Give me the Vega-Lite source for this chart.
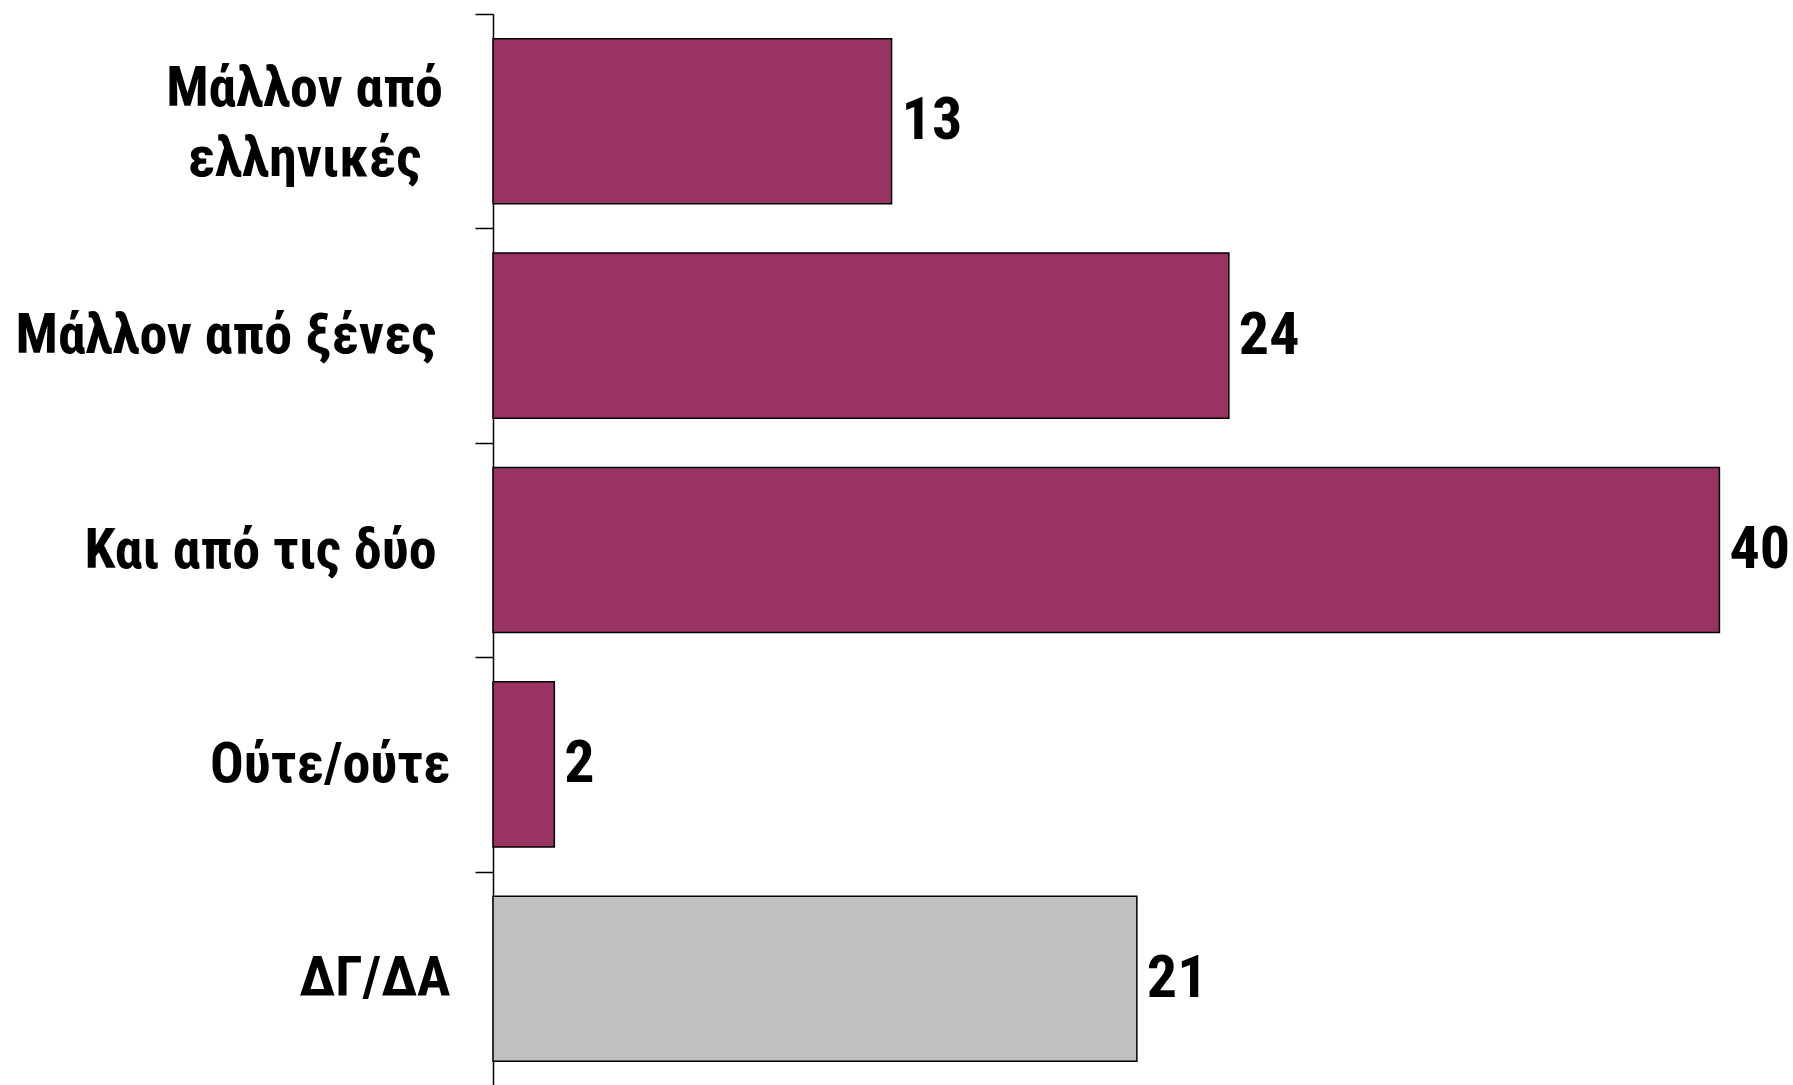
{
  "$schema": "https://vega.github.io/schema/vega-lite/v6.json",
  "autosize": "none",
  "width": 1300,
  "height": 1072,
  "padding": {"left": 493, "top": 14, "right": 0, "bottom": 0},
  "background": "white",
  "config": {"view": {"stroke": null}},
  "data": {
    "values": [
      {"cat": "Μάλλον από ελληνικές", "value": 13, "group": "a"},
      {"cat": "Μάλλον από ξένες", "value": 24, "group": "a"},
      {"cat": "Και από τις δύο", "value": 40, "group": "a"},
      {"cat": "Ούτε/ούτε", "value": 2, "group": "a"},
      {"cat": "ΔΓ/ΔΑ", "value": 21, "group": "b"}
    ]
  },
  "encoding": {
    "y": {
      "field": "cat",
      "type": "nominal",
      "sort": null,
      "scale": {"paddingInner": 0.23, "paddingOuter": 0.115},
      "axis": {
        "title": null,
        "domain": true,
        "domainColor": "black",
        "domainWidth": 1.5,
        "ticks": true,
        "tickSize": 18,
        "tickOffset": -107.2,
        "labelOffset": {
          "condition": {"test": "datum.value == 'Μάλλον από ελληνικές'", "value": 74},
          "value": 107.2
        },
        "tickColor": "black",
        "tickWidth": 1.5,
        "labelPadding": {
          "condition": [
            {"test": "datum.value == 'Μάλλον από ελληνικές'", "value": 171},
            {"test": "datum.value == 'Μάλλον από ξένες' || datum.value == 'Και από τις δύο'", "value": 39}
          ],
          "value": 25
        },
        "labelAlign": {
          "condition": {"test": "datum.value == 'Μάλλον από ελληνικές'", "value": "center"},
          "value": "right"
        },
        "labelFont": "Liberation Sans Narrow, Noto Sans Condensed, Roboto Condensed, Open Sans Condensed, Roboto",
        "labelFontSize": 56,
        "labelFontWeight": "bold",
        "labelColor": "black",
        "labelLimit": 0,
        "labelLineHeight": 70,
        "labelExpr": "datum.value == 'Μάλλον από ελληνικές' ? ['Μάλλον από', 'ελληνικές'] : datum.value"
      }
    },
    "x": {
      "field": "value",
      "type": "quantitative",
      "scale": {"domain": [0, 42.4]},
      "axis": null
    }
  },
  "layer": [
    {
      "mark": {"type": "bar", "stroke": "black", "strokeWidth": 1.5},
      "encoding": {
        "color": {
          "field": "group",
          "type": "nominal",
          "scale": {"domain": ["a", "b"], "range": ["#983363", "#C0C0C0"]},
          "legend": null
        }
      }
    },
    {
      "mark": {
        "type": "text",
        "align": "left",
        "baseline": "middle",
        "dx": 10,
        "font": "Liberation Sans Narrow, Noto Sans Condensed, Roboto Condensed, Open Sans Condensed, Roboto",
        "fontSize": 60,
        "fontWeight": "bold",
        "color": "black"
      },
      "encoding": {"text": {"field": "value", "type": "quantitative"}}
    }
  ]
}
